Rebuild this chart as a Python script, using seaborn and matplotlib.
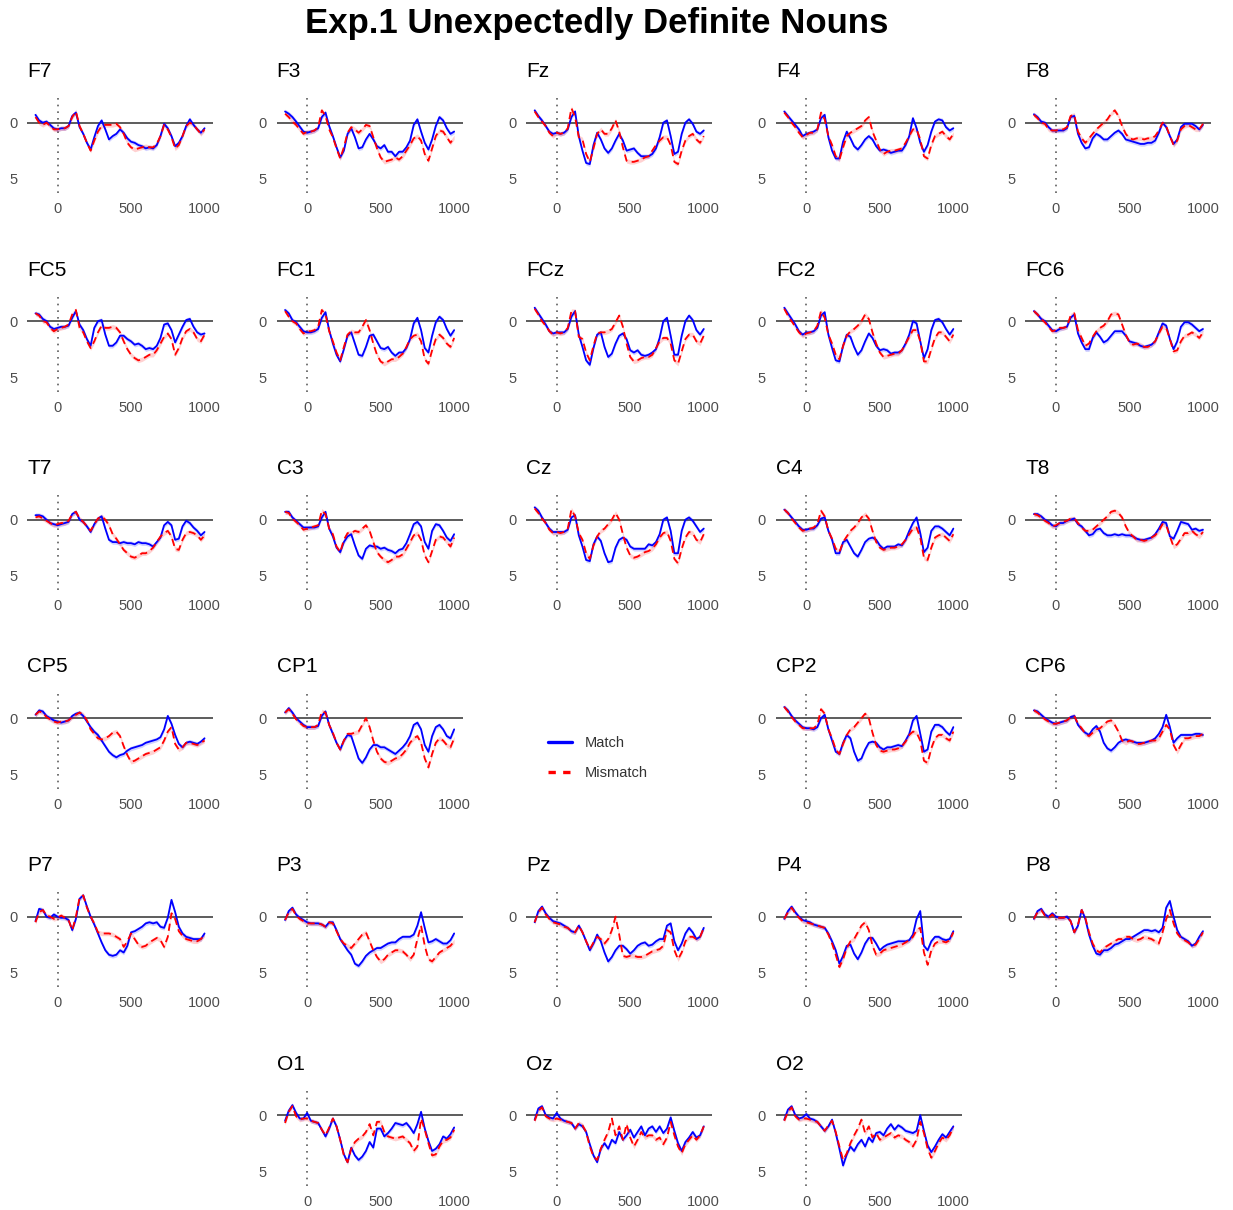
import numpy as np
import pandas as pd
import matplotlib
matplotlib.use("Agg")
import matplotlib.pyplot as plt
import seaborn as sns
from matplotlib.lines import Line2D

sns.set_style("white")
plt.rcParams["font.family"] = ["Liberation Sans", "DejaVu Sans"]

# ---------------- data (amplitude in microvolts, 25 ms grid) ----------------
times = list(range(-150, 1001, 25))

F7_match = [-0.7,-0.2,0.0,-0.1,0.2,0.5,0.6,0.5,0.5,0.3,-0.6,-0.9,
            0.4,1.0,1.8,2.4,1.3,0.3,-0.2,0.6,1.5,1.2,1.0,0.6,
            0.9,1.4,1.7,1.8,2.0,2.1,2.3,2.2,2.3,2.0,1.2,0.1,
            0.5,1.2,2.1,1.8,1.2,0.3,-0.3,0.2,0.6,0.9,0.5]
F7_mismatch = [-0.5,0.0,0.2,0.0,0.3,0.6,0.6,0.5,0.5,0.3,-0.5,-1.0,
               0.3,1.0,1.8,2.5,1.6,0.8,0.3,0.2,0.2,0.2,0.1,0.4,
               1.0,1.8,2.2,2.4,2.3,2.2,2.1,2.2,2.2,1.9,1.2,0.2,
               0.6,1.3,2.3,2.0,1.2,0.3,0.0,0.2,0.6,1.0,0.6]
F3_match = [-1.0,-0.8,-0.5,-0.1,0.35,0.8,0.9,0.8,0.7,0.5,-0.5,-0.9,
            0.3,1.2,2.2,3.1,2.5,1.0,0.5,1.3,2.3,2.2,1.5,1.0,
            1.5,2.1,2.3,2.0,2.6,2.6,3.0,2.6,2.6,2.2,1.6,0.2,
            -0.3,0.8,1.8,2.4,1.5,0.3,-0.5,-0.2,0.5,1.0,0.8]
F3_mismatch = [-0.8,-0.5,-0.1,0.2,0.6,1.0,0.8,0.8,0.7,0.4,-1.1,-0.6,
               0.6,1.3,2.3,3.2,2.2,0.9,0.4,0.6,0.9,0.6,0.2,0.3,
               1.3,2.3,3.1,3.5,3.4,3.3,3.1,3.3,3.0,2.5,2.0,1.4,
               1.2,1.6,2.8,3.4,2.3,1.2,0.7,0.8,1.3,1.8,1.3]
Fz_match = [-1.1,-0.6,-0.2,0.3,0.8,1.0,0.9,1.0,0.9,0.6,-0.5,-1.0,
            1.2,2.5,3.6,3.7,2.0,0.9,1.5,2.3,2.7,2.3,1.6,1.0,
            1.6,2.5,2.4,2.3,2.7,3.0,3.0,3.0,2.8,2.3,1.3,0.0,
            -0.2,1.2,2.8,2.6,1.0,0.0,-0.3,0.1,0.8,1.0,0.7]
Fz_mismatch = [-1.0,-0.5,-0.1,0.3,0.9,1.2,0.9,1.0,0.9,0.5,-1.3,-0.5,
               1.3,1.5,2.8,3.5,2.3,1.0,0.6,1.0,1.0,0.5,-0.2,0.8,
               2.2,3.4,3.5,3.5,3.4,3.3,3.1,3.0,2.5,2.0,1.6,1.3,
               1.3,2.0,3.5,3.7,2.5,1.6,1.2,1.0,1.5,1.8,1.2]
F4_match = [-1.0,-0.6,-0.2,0.2,0.6,1.2,1.0,0.9,0.8,0.6,-0.4,-0.7,
            1.3,2.5,3.2,3.2,1.7,0.8,1.4,2.1,2.4,2.0,1.5,1.2,
            1.5,2.1,2.5,2.4,2.5,2.7,2.6,2.5,2.5,2.0,1.2,-0.4,
            0.5,1.8,2.6,2.0,0.8,-0.1,-0.3,-0.2,0.4,0.7,0.5]
F4_mismatch = [-0.9,-0.5,0.0,0.4,0.9,1.3,1.1,0.9,0.9,0.6,-0.9,-0.3,
               1.2,2.0,3.0,3.3,2.2,1.2,0.9,0.7,0.5,0.3,-0.2,-0.5,
               0.8,1.6,2.4,2.8,2.6,2.5,2.5,2.4,2.3,1.8,1.2,0.6,
               0.6,1.5,3.0,3.2,2.0,1.2,1.0,0.8,1.2,1.5,1.0]
F8_match = [-0.75,-0.5,-0.1,0.0,0.4,0.7,0.7,0.7,0.7,0.5,-0.5,-0.6,
            1.0,1.8,2.3,2.2,1.4,1.0,1.2,1.5,1.5,1.2,0.9,0.7,
            1.0,1.5,1.6,1.7,1.8,1.9,1.9,1.8,1.8,1.6,0.9,0.0,
            0.4,1.2,1.9,1.5,0.4,0.1,0.1,0.1,0.3,0.6,0.2]
F8_mismatch = [-0.7,-0.4,0.0,0.1,0.6,0.7,0.7,0.6,0.6,0.4,-0.6,-0.7,
               0.8,1.4,1.8,1.4,1.0,0.6,0.3,0.0,-0.3,-0.8,-1.1,-0.6,
               0.3,1.0,1.4,1.5,1.4,1.4,1.5,1.4,1.4,1.2,0.7,0.0,
               0.3,1.2,2.0,1.6,0.6,0.3,0.2,0.4,0.6,0.6,0.1]
FC5_match = [-0.7,-0.6,-0.2,0.0,0.5,0.7,0.6,0.5,0.5,0.4,-0.3,-0.9,
             0.3,0.8,1.6,2.2,0.6,0.0,-0.1,1.2,2.2,2.2,1.9,1.3,
             1.3,1.6,1.8,2.1,2.0,2.2,2.5,2.4,2.5,2.2,1.5,0.3,
             0.2,0.8,1.9,1.2,0.5,-0.1,-0.2,0.5,1.0,1.2,1.1]
FC5_mismatch = [-0.7,-0.5,0.0,0.1,0.6,0.9,0.7,0.6,0.5,0.3,-0.6,-1.0,
                0.6,1.0,1.8,2.4,1.8,1.0,0.4,0.6,0.6,0.5,0.6,1.0,
                1.8,2.5,3.0,3.3,3.5,3.4,3.2,3.0,3.0,2.6,2.0,1.4,
                1.1,1.6,3.0,2.4,1.5,0.9,0.7,1.0,1.6,1.8,1.2]
FC1_match = [-1.0,-0.7,-0.1,0.1,0.5,0.9,1.0,1.0,0.9,0.7,-0.3,-0.8,
             0.8,2.0,3.0,3.6,2.5,1.3,1.0,2.0,3.0,3.1,2.3,1.3,
             1.2,1.8,2.4,2.5,2.3,2.8,3.1,2.8,2.8,2.4,1.6,0.2,
             -0.3,0.8,2.4,2.8,1.3,0.1,-0.4,-0.1,0.7,1.3,0.8]
FC1_mismatch = [-0.9,-0.4,0.0,0.2,0.7,1.1,0.9,0.9,0.8,0.5,-1.0,-0.6,
                0.9,1.8,2.8,3.5,2.3,1.2,0.9,1.0,1.0,0.5,-0.1,0.8,
                2.0,3.0,3.6,3.8,3.6,3.4,3.4,3.2,2.9,2.3,1.6,1.3,
                1.2,1.8,3.4,3.8,2.6,1.6,1.2,1.5,2.0,2.3,1.5]
FCz_match = [-1.2,-0.7,-0.2,0.3,0.9,1.1,1.0,1.0,1.0,0.7,-0.4,-0.9,
             1.2,2.3,3.5,3.9,2.4,1.2,1.0,2.3,3.2,2.9,2.0,1.3,
             1.1,1.6,2.6,2.8,2.6,3.0,3.1,3.0,2.8,2.5,1.5,0.0,
             -0.3,1.3,3.0,3.0,1.3,0.0,-0.5,-0.1,0.8,1.2,0.7]
FCz_mismatch = [-1.1,-0.6,0.0,0.4,0.9,1.2,1.0,1.1,1.0,0.6,-0.9,-0.9,
                1.4,1.6,2.8,3.5,2.2,1.1,1.0,1.0,0.9,0.7,0.1,-0.5,
                0.5,2.0,3.2,3.6,3.5,3.3,3.2,3.2,3.0,2.4,1.8,1.5,
                1.5,2.0,3.5,3.8,2.7,1.6,1.2,1.2,1.8,2.0,1.3]
FC2_match = [-1.2,-0.7,-0.2,0.3,0.9,1.2,1.0,1.0,0.9,0.6,-0.5,-0.8,
             1.2,2.4,3.5,3.6,2.2,1.2,1.4,2.3,3.0,2.6,1.8,1.1,
             1.5,2.2,2.6,2.5,2.6,2.9,2.8,2.8,2.6,2.0,1.2,0.0,
             0.2,1.8,3.3,2.5,0.8,-0.1,-0.2,0.1,0.7,1.2,0.7]
FC2_mismatch = [-1.1,-0.5,0.0,0.5,1.0,1.3,1.1,1.0,0.9,0.4,-0.9,-0.3,
                1.2,2.0,3.0,3.4,2.2,1.3,0.9,0.7,0.4,0.0,-0.6,-0.2,
                1.0,2.0,2.8,3.2,3.1,3.0,2.9,2.9,2.6,2.0,1.4,0.8,
                0.8,1.8,3.6,3.6,2.5,1.5,1.0,1.0,1.4,1.8,1.2]
FC6_match = [-0.9,-0.6,-0.2,0.0,0.4,0.8,0.9,0.7,0.6,0.5,-0.3,-0.6,
             1.1,1.9,2.5,2.5,1.5,1.0,1.4,1.9,1.7,1.3,0.9,0.9,
             0.9,1.3,1.8,1.9,2.0,2.2,2.3,2.2,2.1,1.8,1.0,0.2,
             0.4,1.6,2.5,1.8,0.5,0.1,0.1,0.3,0.6,0.9,0.7]
FC6_mismatch = [-0.9,-0.6,-0.2,0.1,0.5,0.9,0.8,0.6,0.6,0.5,-0.5,-0.7,
                0.8,1.5,2.2,2.0,1.4,0.9,0.6,0.4,0.0,-0.6,-0.7,-0.6,
                0.3,1.2,1.9,2.1,2.0,2.1,2.3,2.3,2.1,1.8,1.1,0.5,
                0.6,1.6,2.7,2.6,1.8,1.3,1.2,1.0,1.2,1.5,1.0]
T7_match = [-0.4,-0.4,-0.3,0.0,0.3,0.4,0.5,0.4,0.3,0.2,-0.5,-0.7,
            0.0,0.2,0.6,1.1,0.4,-0.1,-0.3,0.8,1.8,2.0,2.0,2.1,
            2.0,2.1,2.1,2.2,2.0,2.1,2.1,2.2,2.4,2.0,1.6,0.5,
            0.2,0.5,1.8,1.7,0.6,0.1,0.3,0.7,1.0,1.4,1.1]
T7_mismatch = [-0.2,-0.3,-0.1,0.1,0.3,0.5,0.4,0.3,0.3,0.1,-0.5,-0.7,
               -0.1,0.2,0.6,1.0,0.4,-0.1,-0.3,0.0,0.5,1.3,1.7,2.2,
               2.7,3.0,3.3,3.4,3.2,3.0,3.0,2.8,2.5,2.0,1.5,1.2,
               1.0,1.5,2.6,2.7,1.8,1.2,1.1,1.2,1.4,1.8,1.4]
C3_match = [-0.7,-0.7,-0.2,0.1,0.4,0.7,0.7,0.7,0.7,0.6,-0.2,-0.7,
            0.8,1.5,2.5,2.9,2.0,1.5,1.3,2.3,3.2,3.5,2.6,2.3,
            2.4,2.4,2.6,2.5,2.7,2.8,3.0,2.7,2.6,2.1,1.3,0.4,
            0.2,0.6,2.0,2.6,1.0,0.4,0.5,1.0,1.6,1.9,1.3]
C3_mismatch = [-0.7,-0.6,-0.1,0.2,0.5,0.9,0.8,0.7,0.6,0.5,-0.8,-0.5,
               0.8,1.3,2.4,2.9,1.8,1.2,1.2,1.0,1.1,0.8,0.5,1.0,
               2.0,2.9,3.3,3.6,3.8,3.6,3.3,3.3,3.1,2.6,2.0,1.4,
               1.2,1.8,3.2,3.8,2.8,1.8,1.5,1.6,2.0,2.4,1.6]
Cz_match = [-1.1,-0.8,-0.2,0.3,0.8,1.1,1.1,1.1,1.1,0.9,-0.2,-0.4,
            1.4,2.4,3.6,3.7,2.2,1.5,1.9,3.0,3.8,3.7,2.5,1.8,
            1.6,1.8,2.4,2.6,2.6,2.6,2.6,2.2,2.3,2.0,1.3,0.0,
            -0.2,1.0,3.0,3.0,1.0,0.0,-0.2,0.1,0.6,1.1,0.8]
Cz_mismatch = [-1.0,-0.6,-0.1,0.3,0.9,1.2,1.1,1.2,1.1,0.8,-0.9,-0.3,
               1.2,1.8,3.0,3.5,2.3,1.5,1.0,0.8,0.4,0.0,-0.6,0.0,
               1.3,2.5,3.2,3.4,3.3,3.1,2.9,2.8,2.6,2.2,1.6,1.2,
               1.1,1.9,3.5,3.9,2.6,1.6,1.1,1.2,1.8,2.0,1.3]
C4_match = [-0.9,-0.6,-0.2,0.2,0.6,0.9,0.9,0.8,0.8,0.5,-0.1,-0.2,
            1.0,1.8,3.0,3.0,2.0,1.8,2.4,3.0,3.3,2.7,2.0,1.7,
            1.6,1.8,2.3,2.6,2.4,2.4,2.4,2.2,2.3,1.8,1.0,0.3,
            -0.2,1.2,2.9,2.5,1.0,0.6,0.6,0.8,1.1,1.4,0.8]
C4_mismatch = [-0.9,-0.6,-0.1,0.3,0.7,1.0,0.9,0.8,0.7,0.4,-0.8,-0.3,
               1.0,1.7,2.6,2.9,2.0,1.5,1.0,0.7,0.3,-0.2,-0.5,-0.1,
               1.0,2.0,2.5,2.7,2.6,2.5,2.5,2.4,2.2,1.8,1.3,0.8,
               0.7,1.6,3.4,3.6,2.5,1.6,1.4,1.3,1.6,1.9,1.3]
T8_match = [-0.5,-0.5,-0.3,0.0,0.2,0.5,0.6,0.3,0.3,0.1,0.0,-0.1,
            0.4,0.6,1.0,1.4,1.3,0.9,0.8,1.2,1.4,1.4,1.3,1.4,
            1.3,1.4,1.4,1.5,1.7,1.8,1.8,1.7,1.6,1.3,0.8,0.2,
            0.3,1.5,1.7,1.0,0.2,0.3,0.4,0.9,0.8,1.0,0.9]
T8_mismatch = [-0.5,-0.4,-0.2,0.1,0.3,0.6,0.5,0.3,0.2,0.1,-0.1,-0.1,
               0.3,0.7,1.0,1.0,0.9,0.6,0.3,0.0,-0.3,-0.7,-0.8,-0.6,
               -0.2,0.6,1.2,1.5,1.8,1.8,1.9,1.8,1.6,1.4,1.0,0.4,
               0.5,1.5,2.4,2.2,1.7,1.2,1.2,1.0,1.3,1.5,1.1]
CP5_match = [-0.3,-0.7,-0.6,-0.2,0.0,0.2,0.3,0.4,0.3,0.2,-0.2,-0.4,
             -0.5,-0.2,0.3,0.8,1.2,1.5,2.0,2.5,3.0,3.3,3.5,3.3,
             3.2,2.9,2.7,2.6,2.5,2.4,2.2,2.1,2.0,1.9,1.7,1.0,
             -0.2,0.5,1.5,2.3,2.6,2.2,2.1,2.2,2.3,2.1,1.8]
CP5_mismatch = [-0.3,-0.6,-0.5,-0.1,0.1,0.3,0.4,0.3,0.3,0.2,-0.1,-0.3,
                -0.5,-0.3,0.2,1.0,1.4,1.8,1.9,1.8,1.6,1.3,1.2,1.6,
                2.5,3.3,3.9,3.8,3.6,3.4,3.2,3.1,3.0,2.8,2.6,2.0,
                1.2,0.8,2.3,2.8,2.6,2.2,2.2,2.3,2.4,2.2,2.0]
CP1_match = [-0.5,-0.9,-0.5,0.0,0.3,0.6,0.8,0.8,0.8,0.7,-0.2,-0.6,
             0.6,1.4,2.2,2.8,2.0,1.5,1.6,2.6,3.6,4.0,3.5,2.8,
             2.4,2.4,2.6,2.6,2.8,3.0,3.2,2.9,2.6,2.2,1.6,0.6,
             0.4,1.0,2.4,3.0,1.6,0.8,0.6,1.0,1.6,1.8,1.0]
CP1_mismatch = [-0.5,-0.8,-0.4,0.1,0.4,0.7,0.8,0.8,0.8,0.6,-0.6,-0.5,
                0.6,1.3,2.2,2.8,2.0,1.4,1.4,1.3,1.2,0.6,0.0,0.8,
                2.0,3.0,3.6,3.9,4.0,3.8,3.6,3.5,3.2,2.8,2.2,1.8,
                1.6,2.2,3.6,4.4,3.2,2.2,1.8,2.0,2.4,2.6,1.8]
CP2_match = [-1.0,-0.7,-0.2,0.2,0.5,0.8,0.9,0.9,1.0,0.8,0.0,-0.3,
             1.0,2.0,3.0,3.2,2.2,1.5,1.8,3.0,3.8,3.6,2.8,2.2,
             2.1,2.2,2.6,2.8,2.6,2.6,2.5,2.4,2.5,2.0,1.4,0.2,
             -0.2,1.4,3.0,2.8,1.2,0.6,0.6,0.8,1.2,1.5,0.8]
CP2_mismatch = [-1.0,-0.6,-0.1,0.3,0.6,0.9,0.9,0.9,0.9,0.6,-0.8,-0.4,
                1.0,1.8,2.8,3.2,2.3,1.5,1.0,0.8,0.4,0.0,-0.4,0.0,
                1.3,2.4,2.9,3.0,2.9,2.8,2.8,2.7,2.5,2.1,1.5,1.2,
                1.3,2.0,3.8,4.0,2.7,1.8,1.5,1.5,1.8,2.0,1.2]
CP6_match = [-0.7,-0.6,-0.3,0.0,0.2,0.4,0.5,0.4,0.3,0.2,-0.1,-0.2,
             0.6,1.0,1.3,1.5,1.0,0.7,1.2,2.2,2.7,2.9,2.6,2.2,
             2.0,1.9,2.0,2.1,2.2,2.2,2.2,2.1,2.0,1.8,1.4,0.8,
             -0.3,0.8,2.2,1.8,1.5,1.5,1.5,1.5,1.4,1.4,1.5]
CP6_mismatch = [-0.7,-0.5,-0.2,0.1,0.3,0.5,0.5,0.4,0.3,0.2,-0.1,-0.2,
                0.5,0.9,1.4,1.6,1.3,1.0,0.9,0.6,0.3,0.2,0.6,1.2,
                2.0,2.2,2.0,2.1,2.3,2.3,2.2,2.1,2.0,2.0,1.8,1.2,
                0.6,1.0,2.4,3.0,2.4,1.8,1.8,1.7,1.6,1.6,1.4]
P7_match = [0.4,-0.7,-0.6,0.0,0.1,-0.2,0.0,0.1,0.1,0.3,1.2,0.2,
            -1.6,-1.9,-0.9,0.0,0.7,1.5,2.3,3.0,3.4,3.5,3.4,3.0,
            3.2,2.6,1.4,1.3,1.1,0.9,0.6,0.5,0.6,0.5,0.9,1.0,
            0.1,-1.5,-0.4,0.9,1.5,1.8,1.9,2.0,2.0,2.0,1.5]
P7_mismatch = [0.5,-0.4,-0.6,-0.1,0.0,0.2,0.1,-0.1,0.1,0.3,1.2,0.0,
               -1.7,-1.9,-0.8,0.0,0.6,1.4,1.5,1.5,1.5,1.6,1.8,2.0,
               2.7,2.2,1.5,2.0,2.5,2.7,2.6,2.3,2.1,1.9,2.1,2.7,
               1.8,-0.3,0.2,1.3,1.7,2.0,2.1,2.2,2.2,2.0,1.6]
P3_match = [0.3,-0.5,-0.8,-0.2,0.1,0.3,0.5,0.6,0.6,0.6,0.7,0.9,
            0.5,0.5,1.2,2.0,2.5,3.0,3.4,4.2,4.4,4.0,3.5,3.2,
            3.0,2.8,2.8,2.6,2.4,2.3,2.3,2.0,1.8,1.8,1.8,1.6,
            0.8,-0.4,1.0,2.3,2.2,2.0,2.2,2.4,2.4,2.1,1.5]
P3_mismatch = [0.3,-0.4,-0.7,-0.1,0.2,0.4,0.6,0.6,0.6,0.6,0.7,0.9,
               0.5,0.6,1.3,2.0,2.4,2.6,2.8,2.4,2.0,1.6,1.4,2.2,
               3.0,3.6,4.0,3.8,3.4,3.2,3.0,3.0,3.1,3.4,3.8,3.4,
               2.0,0.8,2.6,3.8,4.0,3.6,3.2,3.0,2.8,2.6,2.2]
Pz_match = [0.5,-0.5,-0.9,-0.3,0.1,0.4,0.5,0.6,0.8,1.0,1.3,1.4,
            0.8,1.4,2.2,3.0,2.4,1.6,2.2,3.2,4.0,3.6,3.0,2.6,
            2.6,2.9,3.3,3.0,2.6,2.4,2.3,2.6,2.5,2.2,2.0,2.0,
            0.8,0.6,2.2,3.0,2.4,1.5,1.0,1.4,2.0,1.8,1.0]
Pz_mismatch = [0.5,-0.4,-0.8,-0.2,0.2,0.5,0.6,0.7,0.9,1.0,1.3,1.4,
               0.8,1.4,2.2,2.9,2.3,1.8,2.0,2.4,2.0,1.2,0.0,1.6,
               3.5,3.6,3.5,3.5,3.6,3.6,3.5,3.3,3.1,3.0,2.9,2.6,
               1.2,1.4,3.0,3.8,3.2,2.2,1.8,1.8,2.0,1.8,1.0]
P4_match = [0.2,-0.5,-0.9,-0.4,0.0,0.3,0.4,0.5,0.7,0.8,0.9,1.0,
            1.5,2.2,3.0,4.2,3.5,2.6,2.5,3.3,3.8,3.2,2.4,1.9,
            1.9,2.4,3.0,2.7,2.5,2.4,2.3,2.2,2.2,2.2,2.1,1.6,
            0.2,-0.5,2.6,3.0,2.2,1.8,1.8,2.0,2.1,2.0,1.3]
P4_mismatch = [0.2,-0.4,-0.8,-0.3,0.1,0.4,0.5,0.6,0.7,0.8,0.9,1.0,
               1.6,2.4,3.4,4.5,3.8,2.8,2.2,2.0,1.4,0.8,0.5,1.2,
               2.6,3.4,3.3,3.0,2.9,2.8,2.7,2.6,2.5,2.3,2.1,1.8,
               1.2,1.0,3.2,4.3,3.0,2.4,2.2,2.2,2.3,2.1,1.4]
P8_match = [0.2,-0.5,-0.7,-0.2,0.0,-0.3,0.0,0.1,0.1,0.0,0.4,1.4,
            0.8,-0.6,0.2,1.6,2.6,3.3,3.4,3.0,3.0,2.8,2.5,2.4,
            2.2,2.0,2.0,1.8,1.6,1.4,1.2,1.2,1.3,1.2,1.4,1.0,
            -0.8,-1.4,0.0,1.2,1.8,2.0,2.2,2.6,2.4,1.8,1.3]
P8_mismatch = [0.2,-0.4,-0.6,-0.1,0.1,-0.2,0.1,0.1,0.1,0.0,0.4,1.4,
               0.7,-0.6,0.1,1.4,2.4,3.0,3.2,2.8,2.6,2.4,2.2,2.0,
               2.0,1.8,1.8,2.0,2.1,2.0,1.8,1.9,2.0,2.2,2.4,1.4,
               0.2,-0.6,0.6,1.5,1.9,2.1,2.3,2.6,2.5,2.0,1.4]
O1_match = [0.5,-0.4,-0.9,-0.2,0.3,0.3,-0.2,0.5,0.6,0.7,1.3,1.9,
            1.2,0.3,1.0,2.2,3.5,4.2,2.9,3.6,4.0,3.7,3.2,2.4,
            2.9,1.2,1.2,1.9,1.6,1.2,0.7,0.8,0.9,0.7,1.1,1.6,
            0.8,-0.3,1.2,2.3,3.2,3.0,2.6,1.9,2.1,1.7,1.1]
O1_mismatch = [0.7,-0.3,-0.8,0.1,0.4,0.3,0.3,0.5,0.6,0.7,1.3,1.8,
               1.1,0.3,1.0,2.2,3.6,4.2,3.0,2.4,2.1,1.9,1.5,0.8,
               1.8,0.6,0.6,1.5,1.9,2.0,2.1,2.0,1.9,2.2,2.5,3.2,
               2.8,0.3,1.3,2.5,3.6,3.5,2.8,2.3,2.2,2.0,1.3]
Oz_match = [0.4,-0.6,-0.8,0.0,0.2,0.3,-0.2,0.3,0.5,0.6,0.7,1.2,
            0.8,1.0,1.5,2.6,3.6,4.2,3.0,2.5,3.0,2.2,2.5,1.5,
            2.2,1.8,1.3,2.0,1.5,1.0,1.8,1.2,1.0,1.5,1.0,1.6,
            1.2,0.2,1.4,2.5,3.2,2.4,2.0,1.5,2.0,1.8,1.0]
Oz_mismatch = [0.5,-0.4,-0.7,0.1,0.3,0.4,0.3,0.4,0.5,0.6,0.7,1.2,
               0.7,0.9,1.5,2.8,3.7,4.0,3.0,2.2,1.5,0.3,1.8,1.0,
               2.2,0.8,2.0,2.8,2.2,1.5,2.0,1.8,1.8,2.2,2.0,2.6,
               2.0,0.6,1.8,2.8,3.4,2.6,2.2,1.8,2.2,1.8,1.0]
O2_match = [0.4,-0.5,-0.8,0.0,0.3,0.2,-0.1,0.3,0.4,0.6,1.0,1.4,
            1.0,0.4,1.6,3.0,4.5,3.5,2.8,3.2,2.6,2.2,2.8,2.0,
            2.4,1.6,1.5,1.8,1.2,0.8,1.3,0.9,1.1,1.4,1.5,1.6,
            1.4,0.0,1.4,2.7,3.3,2.8,2.2,1.7,2.0,1.5,1.0]
O2_mismatch = [0.5,-0.3,-0.7,0.1,0.4,0.3,0.3,0.4,0.5,0.6,1.0,1.4,
               0.9,0.5,1.5,2.8,4.0,3.4,2.5,1.8,1.2,0.4,1.6,1.0,
               2.0,1.6,2.2,2.0,1.8,1.6,2.0,1.8,1.9,2.2,2.4,2.8,
               2.2,0.6,1.6,3.0,3.8,3.2,2.5,2.0,2.2,1.8,1.1]

channel_data = {
    "F7": (F7_match, F7_mismatch), "F3": (F3_match, F3_mismatch),
    "Fz": (Fz_match, Fz_mismatch), "F4": (F4_match, F4_mismatch),
    "F8": (F8_match, F8_mismatch), "FC5": (FC5_match, FC5_mismatch),
    "FC1": (FC1_match, FC1_mismatch), "FCz": (FCz_match, FCz_mismatch),
    "FC2": (FC2_match, FC2_mismatch), "FC6": (FC6_match, FC6_mismatch),
    "T7": (T7_match, T7_mismatch), "C3": (C3_match, C3_mismatch),
    "Cz": (Cz_match, Cz_mismatch), "C4": (C4_match, C4_mismatch),
    "T8": (T8_match, T8_mismatch), "CP5": (CP5_match, CP5_mismatch),
    "CP1": (CP1_match, CP1_mismatch), "CP2": (CP2_match, CP2_mismatch),
    "CP6": (CP6_match, CP6_mismatch), "P7": (P7_match, P7_mismatch),
    "P3": (P3_match, P3_mismatch), "Pz": (Pz_match, Pz_mismatch),
    "P4": (P4_match, P4_mismatch), "P8": (P8_match, P8_mismatch),
    "O1": (O1_match, O1_mismatch), "Oz": (Oz_match, Oz_mismatch),
    "O2": (O2_match, O2_mismatch),
}

conditions = ["Match", "Mismatch"]
ribbon_halfwidth = 0.2  # approx. standard-error half width

grid = [["F7", "F3", "Fz", "F4", "F8"],
        ["FC5", "FC1", "FCz", "FC2", "FC6"],
        ["T7", "C3", "Cz", "C4", "T8"],
        ["CP5", "CP1", None, "CP2", "CP6"],
        ["P7", "P3", "Pz", "P4", "P8"],
        [None, "O1", "Oz", "O2", None]]

for name, (m, mm) in channel_data.items():
    if len(m) != len(times) or len(mm) != len(times):
        raise ValueError(f"{name}: {len(m)} / {len(mm)}")

records = []
for name, series in channel_data.items():
    for cond, vals in zip(conditions, series):
        for t, v in zip(times, vals):
            records.append((name, cond, t, v))
df = pd.DataFrame(records, columns=["channel", "condition", "time", "amp"])

# ---------------- drawing ----------------
W, H = 1233, 1210
fig = plt.figure(figsize=(W / 100, H / 100), dpi=100)

palette = {"Match": "#0000ff", "Mismatch": "#ff0000"}
dashes = {"Match": "", "Mismatch": (4, 2.5)}

AX_L0, AX_T0, COL_STEP, ROW_STEP, AX_W, AX_H = 27, 95, 249.6, 198.5, 186, 98

for r, row in enumerate(grid):
    for c, name in enumerate(row):
        left = AX_L0 + COL_STEP * c
        top = AX_T0 + ROW_STEP * r
        ax = fig.add_axes([left / W, 1 - (top + AX_H) / H, AX_W / W, AX_H / H])
        if name is None:
            ax.axis("off")
            continue
        sub = df[df["channel"] == name]
        ax.axhline(0, color="#5c5c5c", lw=1.4, zorder=1)
        ax.axvline(0, color="#5c5c5c", lw=1.2, ls=(0, (1, 3)), zorder=1)
        for cond in conditions:
            s = sub[sub["condition"] == cond]
            ax.fill_between(s["time"], s["amp"] - ribbon_halfwidth,
                            s["amp"] + ribbon_halfwidth,
                            color=palette[cond], alpha=0.18, lw=0, zorder=2)
        sns.lineplot(data=sub, x="time", y="amp", hue="condition",
                     style="condition", palette=palette, dashes=dashes,
                     hue_order=conditions, style_order=conditions,
                     errorbar=None, legend=False, linewidth=1.3, ax=ax,
                     zorder=3)
        ax.set_xlim(-207.5, 1057.5)
        ax.set_ylim(6.28, -2.47)
        ax.set_xticks([0, 500, 1000])
        ax.set_yticks([0, 5])
        ax.set_xlabel("")
        ax.set_ylabel("")
        ax.tick_params(axis="both", length=0, labelsize=10.5,
                       labelcolor="#4d4d4d")
        ax.tick_params(axis="x", pad=6.5)
        ax.tick_params(axis="y", pad=7)
        ax.grid(False)
        for sp in ax.spines.values():
            sp.set_visible(False)
        ax.text(0.0, 1 + 18 / AX_H, name, transform=ax.transAxes,
                fontsize=15, ha="left", va="baseline", color="black")

# legend
handles = [Line2D([], [], color=palette["Match"], lw=2.4, ls="-"),
           Line2D([], [], color=palette["Mismatch"], lw=2.4,
                  ls=(0, (2.2, 2.2)))]
fig.legend(handles, conditions, loc="center left",
           bbox_to_anchor=(548 / W, 1 - 758 / H), frameon=False,
           fontsize=10.5, handlelength=1.65, handletextpad=0.9,
           labelspacing=1.05, borderpad=0, borderaxespad=0,
           labelcolor="#333333")

fig.text(597 / W, 1 - 23 / H, "Exp.1 Unexpectedly Definite Nouns",
         ha="center", va="center", fontsize=25, fontweight="bold",
         color="black")

fig.savefig("out.png", dpi=100)
